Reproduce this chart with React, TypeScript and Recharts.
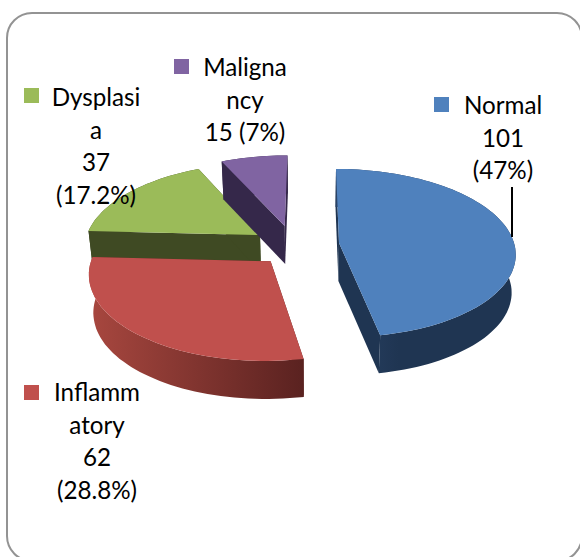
import { PieChart, Pie } from 'recharts'

// draw order is back to front, red has to sit on top of the green wall
const names = ['Dysplasia', 'Malignancy', 'Normal', 'Inflammatory']
const values = [37, 15, 101, 62]
const labelLines = [
  ['Dysplasi', 'a', '37', '(17.2%)'],
  ['Maligna', 'ncy', '15 (7%)'],
  ['Normal', '101', '(47%)'],
  ['Inflamm', 'atory', '62', '(28.8%)'],
]
const topColors = ['#9BBB59', '#8064A2', '#4F81BD', '#C0504D']
const wallColors = ['#3F4A23', '#35284A', '#1F3552', '#5A2422']
const arcStops = [
  ['#3F4A23', '#3F4A23'],
  ['#35284A', '#35284A'],
  ['#2A4366', '#1F3552'],
  ['#A8473F', '#5A2220'],
]
// slice offsets on the pie plane, in radii
const explodeU = [-0.455, -0.314, 0, -0.385]
const explodeV = [-0.096, -0.21, 0, 0.215]
// legend key and text anchor of each label
const keyX = [24, 174, 434, 24]
const keyY = [88, 59, 97, 385]
const textX = [96, 245, 503, 97]
const textY = [106, 76, 114, 401]

const total = values.reduce((a, b) => a + b, 0)
// Normal starts at 12 o'clock and the slices run clockwise
const startAngle = 90 - (360 * (values[2] + values[3])) / total

const WIDTH = 580
const HEIGHT = 557
const CX = 339
const CY = 243
const RADIUS = 175
const VANISH_X = 311
const PERSPECTIVE = 0.12
const SQUASH = 82.9
const DEPTH = 38
const SHRINK = 0.98

const project = (cx: number, cy: number, r: number, u: number, v: number) => {
  const w = 1 / (1 - PERSPECTIVE * v)
  return [VANISH_X + (cx - VANISH_X + u * r) * w, cy + SQUASH * v * w]
}
const lower = (p: number[]) => [VANISH_X + (p[0] - VANISH_X) * SHRINK, p[1] + DEPTH]
const toPath = (pts: number[][]) => 'M' + pts.map((p) => p[0].toFixed(1) + ',' + p[1].toFixed(1)).join('L') + 'Z'

function Slice3D(props: any) {
  const { cx, cy, outerRadius, startAngle: a0, endAngle: a1, index } = props
  const du = explodeU[index]
  const dv = explodeV[index]
  const apex = project(cx, cy, outerRadius, du, dv)
  const arc: number[][] = []
  const steps = Math.ceil(Math.abs(a1 - a0) / 2)
  for (let i = 0; i <= steps; i++) {
    const t = ((a0 + ((a1 - a0) * i) / steps) * Math.PI) / 180
    arc.push(project(cx, cy, outerRadius, du + Math.cos(t), dv - Math.sin(t)))
  }
  const first = arc[0]
  const last = arc[arc.length - 1]
  const gradId = 'arc-wall-' + index
  return (
    <g>
      <defs>
        <linearGradient id={gradId} x1="0" y1="0" x2="1" y2="0">
          <stop offset="0%" stopColor={arcStops[index][0]} />
          <stop offset={index === 2 ? '35%' : '100%'} stopColor={arcStops[index][1]} />
        </linearGradient>
      </defs>
      <path d={toPath([apex, first, lower(first), lower(apex)])} fill={wallColors[index]} />
      <path d={toPath([apex, last, lower(last), lower(apex)])} fill={wallColors[index]} />
      <path d={toPath([...arc, ...arc.map(lower).reverse()])} fill={`url(#${gradId})`} />
      <path d={toPath([apex, ...arc])} fill={topColors[index]} />
    </g>
  )
}

const FONT = 'Lato, sans-serif'
const LINE_STEP = 32.7

function SliceLabel(props: any) {
  const i = props.index
  return (
    <g>
      <rect x={keyX[i]} y={keyY[i]} width={15} height={15} fill={topColors[i]} />
      {labelLines[i].map((line, n) => (
        <text
          key={n}
          x={textX[i]}
          y={textY[i] + n * LINE_STEP}
          textAnchor="middle"
          fontFamily={FONT}
          fontSize={24.2}
          fill="#000"
        >
          {line}
        </text>
      ))}
      {names[i] === 'Normal' && <line x1={512} y1={187} x2={512} y2={237} stroke="#000" strokeWidth={2} />}
    </g>
  )
}

export default function App() {
  const data = names.map((name, i) => ({ name, value: values[i] }))
  return (
    <div style={{ position: 'absolute', left: 0, top: 0, width: WIDTH, height: HEIGHT, overflow: 'hidden', background: '#fff' }}>
      <div
        style={{
          position: 'absolute',
          left: 6,
          top: 12,
          width: 577,
          height: 550,
          border: '2px solid #939393',
          borderRadius: 26,
          boxSizing: 'border-box',
        }}
      />
      <PieChart
        width={WIDTH}
        height={HEIGHT}
        margin={{ top: 0, right: 0, bottom: 0, left: 0 }}
        style={{ position: 'absolute', left: 0, top: 0 }}
      >
        <Pie
          data={data}
          dataKey="value"
          nameKey="name"
          cx={CX}
          cy={CY}
          outerRadius={RADIUS}
          startAngle={startAngle}
          endAngle={startAngle - 360}
          stroke="none"
          shape={Slice3D}
          label={SliceLabel}
          labelLine={false}
          isAnimationActive={false}
        />
      </PieChart>
    </div>
  )
}
